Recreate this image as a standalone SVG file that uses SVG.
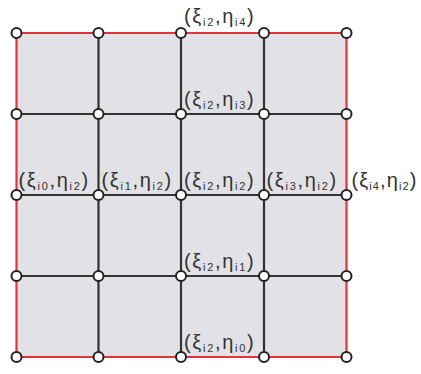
<svg xmlns="http://www.w3.org/2000/svg" width="421" height="374" viewBox="0 0 421 374">
<style>
.bg{fill:#e2e2e6;stroke:none}
.in{stroke:#333;stroke-width:2.2;fill:none}
.out{stroke:#e2343a;stroke-width:2.2;fill:none}
.nd{fill:#fff;stroke:#222;stroke-width:2}
.lb{font-family:"Liberation Sans",Arial,sans-serif;font-size:20px;fill:#333;letter-spacing:1.7px}
.s{font-size:11px}
.tight{letter-spacing:1.1px}
</style>
<rect width="421" height="374" fill="#fff"/>
<rect class="bg" x="16.5" y="33" width="330" height="324"/>
<g id="connectors">
<g class="in">
<line x1="98.5" y1="33" x2="98.5" y2="357"/>
<line x1="181" y1="33" x2="181" y2="357"/>
<line x1="264" y1="33" x2="264" y2="357"/>
<line x1="16.5" y1="114" x2="346.5" y2="114"/>
<line x1="16.5" y1="195" x2="346.5" y2="195"/>
<line x1="16.5" y1="276" x2="346.5" y2="276"/>
</g>
<g class="out">
<line x1="16.5" y1="33" x2="346.5" y2="33"/>
<line x1="16.5" y1="357" x2="346.5" y2="357"/>
<line x1="16.5" y1="33" x2="16.5" y2="357"/>
<line x1="346.5" y1="33" x2="346.5" y2="357"/>
</g>
</g>
<g id="n0_0"><circle class="nd" cx="16.5" cy="33" r="5"/></g>
<g id="n1_0"><circle class="nd" cx="98.5" cy="33" r="5"/></g>
<g id="n2_4"><circle class="nd" cx="181" cy="33" r="5"/><text class="lb" x="184" y="23">(ξ<tspan class="s" dy="3">i2</tspan><tspan dy="-3">,η</tspan><tspan class="s" dy="3">i4</tspan><tspan dy="-3">)</tspan></text></g>
<g id="n3_0"><circle class="nd" cx="264" cy="33" r="5"/></g>
<g id="n4_0"><circle class="nd" cx="346.5" cy="33" r="5"/></g>

<g id="n0_1"><circle class="nd" cx="16.5" cy="114" r="5"/></g>
<g id="n1_1"><circle class="nd" cx="98.5" cy="114" r="5"/></g>
<g id="n2_3"><circle class="nd" cx="181" cy="114" r="5"/><text class="lb" x="184" y="106">(ξ<tspan class="s" dy="3">i2</tspan><tspan dy="-3">,η</tspan><tspan class="s" dy="3">i3</tspan><tspan dy="-3">)</tspan></text></g>
<g id="n3_1"><circle class="nd" cx="264" cy="114" r="5"/></g>
<g id="n4_1"><circle class="nd" cx="346.5" cy="114" r="5"/></g>

<g id="n0_2"><circle class="nd" cx="16.5" cy="195" r="5"/><text class="lb" x="18.5" y="187">(ξ<tspan class="s" dy="3">i0</tspan><tspan dy="-3">,η</tspan><tspan class="s" dy="3">i2</tspan><tspan dy="-3">)</tspan></text></g>
<g id="n1_2"><circle class="nd" cx="98.5" cy="195" r="5"/><text class="lb" x="101.5" y="187">(ξ<tspan class="s" dy="3">i1</tspan><tspan dy="-3">,η</tspan><tspan class="s" dy="3">i2</tspan><tspan dy="-3">)</tspan></text></g>
<g id="n2_2"><circle class="nd" cx="181" cy="195" r="5"/><text class="lb" x="184" y="187">(ξ<tspan class="s" dy="3">i2</tspan><tspan dy="-3">,η</tspan><tspan class="s" dy="3">i2</tspan><tspan dy="-3">)</tspan></text></g>
<g id="n3_2"><circle class="nd" cx="264" cy="195" r="5"/><text class="lb" x="266.5" y="187">(ξ<tspan class="s" dy="3">i3</tspan><tspan dy="-3">,η</tspan><tspan class="s" dy="3">i2</tspan><tspan dy="-3">)</tspan></text></g>
<g id="n4_2"><circle class="nd" cx="346.5" cy="195" r="5"/><text class="lb tight" x="351.5" y="187">(ξ<tspan class="s" dy="3">i4</tspan><tspan dy="-3">,η</tspan><tspan class="s" dy="3">i2</tspan><tspan dy="-3">)</tspan></text></g>

<g id="n0_3"><circle class="nd" cx="16.5" cy="276" r="5"/></g>
<g id="n1_3"><circle class="nd" cx="98.5" cy="276" r="5"/></g>
<g id="n2_1"><circle class="nd" cx="181" cy="276" r="5"/><text class="lb" x="184" y="268">(ξ<tspan class="s" dy="3">i2</tspan><tspan dy="-3">,η</tspan><tspan class="s" dy="3">i1</tspan><tspan dy="-3">)</tspan></text></g>
<g id="n3_3"><circle class="nd" cx="264" cy="276" r="5"/></g>
<g id="n4_3"><circle class="nd" cx="346.5" cy="276" r="5"/></g>

<g id="n0_4"><circle class="nd" cx="16.5" cy="357" r="5"/></g>
<g id="n1_4"><circle class="nd" cx="98.5" cy="357" r="5"/></g>
<g id="n2_0"><circle class="nd" cx="181" cy="357" r="5"/><text class="lb" x="184" y="349">(ξ<tspan class="s" dy="3">i2</tspan><tspan dy="-3">,η</tspan><tspan class="s" dy="3">i0</tspan><tspan dy="-3">)</tspan></text></g>
<g id="n3_4"><circle class="nd" cx="264" cy="357" r="5"/></g>
<g id="n4_4"><circle class="nd" cx="346.5" cy="357" r="5"/></g>
</svg>
